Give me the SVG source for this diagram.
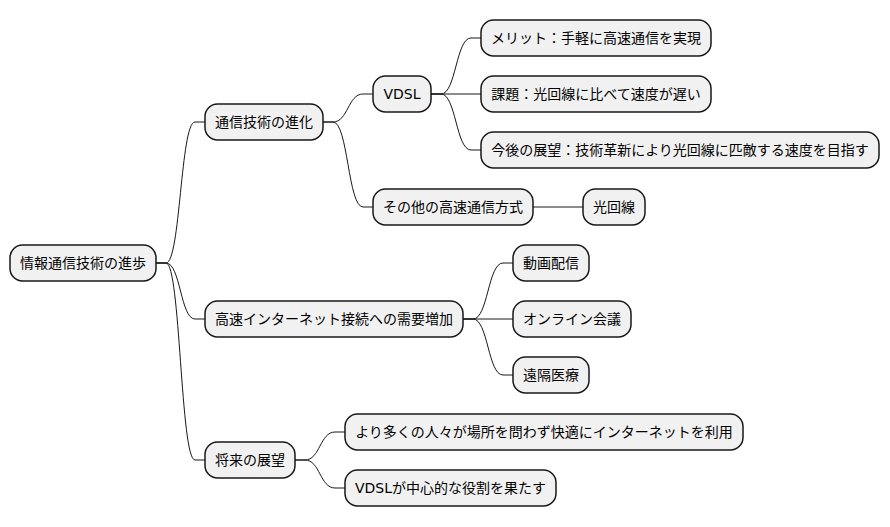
<svg xmlns="http://www.w3.org/2000/svg" width="890" height="527" viewBox="0 0 890 527">
<style>
.n rect{fill:#F1F1F1;stroke:#181818;stroke-width:1.5}
.n text{font-family:"DejaVu Sans","Noto Sans CJK JP",sans-serif;font-size:14px;fill:#000;text-anchor:middle}
#links path{fill:none;stroke:#181818;stroke-width:1}
</style>
<rect width="890" height="527" fill="#FFFFFF"/>
<g id="links">
<path d="M156,263 L166,263 C180.5,263 180.5,122 195,122 L205,122"/>
<path d="M156,263 L166,263 C180.5,263 180.5,319 195,319 L205,319"/>
<path d="M156,263 L166,263 C180.5,263 180.5,460 195,460 L205,460"/>
<path d="M323,122 L333,122 C348,122 348,94 363,94 L373,94"/>
<path d="M323,122 L333,122 C348,122 348,207 363,207 L373,207"/>
<path d="M431,94 L441,94 C456,94 456,38 471,38 L481,38"/>
<path d="M431,94 L481,94"/>
<path d="M431,94 L441,94 C456,94 456,150 471,150 L481,150"/>
<path d="M533,207 L583,207"/>
<path d="M463,319 L473,319 C488,319 488,263 503,263 L513,263"/>
<path d="M463,319 L513,319"/>
<path d="M463,319 L473,319 C488,319 488,375 503,375 L513,375"/>
<path d="M295,460 L305,460 C320,460 320,432 335,432 L345,432"/>
<path d="M295,460 L305,460 C320,460 320,488 335,488 L345,488"/>
</g>
<g id="root" class="n"><rect x="10" y="245" width="146" height="36" rx="12.5"/><text x="83" y="268">情報通信技術の進歩</text></g>
<g id="tech" class="n"><rect x="205" y="104" width="118" height="36" rx="12.5"/><text x="264" y="127">通信技術の進化</text></g>
<g id="vdsl" class="n"><rect x="373" y="76" width="58" height="36" rx="12.5"/><text x="402" y="99">VDSL</text></g>
<g id="merit" class="n"><rect x="481" y="20" width="230" height="36" rx="12.5"/><text x="596" y="43">メリット：手軽に高速通信を実現</text></g>
<g id="issue" class="n"><rect x="481" y="76" width="230" height="36" rx="12.5"/><text x="596" y="99">課題：光回線に比べて速度が遅い</text></g>
<g id="outlook" class="n"><rect x="481" y="132" width="398" height="36" rx="12.5"/><text x="680" y="155">今後の展望：技術革新により光回線に匹敵する速度を目指す</text></g>
<g id="other" class="n"><rect x="373" y="189" width="160" height="36" rx="12.5"/><text x="453" y="212">その他の高速通信方式</text></g>
<g id="fiber" class="n"><rect x="583" y="189" width="62" height="36" rx="12.5"/><text x="614" y="212">光回線</text></g>
<g id="demand" class="n"><rect x="205" y="301" width="258" height="36" rx="12.5"/><text x="334" y="324">高速インターネット接続への需要増加</text></g>
<g id="video" class="n"><rect x="513" y="245" width="76" height="36" rx="12.5"/><text x="551" y="268">動画配信</text></g>
<g id="meeting" class="n"><rect x="513" y="301" width="118" height="36" rx="12.5"/><text x="572" y="324">オンライン会議</text></g>
<g id="medical" class="n"><rect x="513" y="357" width="76" height="36" rx="12.5"/><text x="551" y="380">遠隔医療</text></g>
<g id="future" class="n"><rect x="205" y="442" width="90" height="36" rx="12.5"/><text x="250" y="465">将来の展望</text></g>
<g id="people" class="n"><rect x="345" y="414" width="398" height="36" rx="12.5"/><text x="544" y="437">より多くの人々が場所を問わず快適にインターネットを利用</text></g>
<g id="central" class="n"><rect x="345" y="470" width="211" height="36" rx="12.5"/><text x="450.5" y="493">VDSLが中心的な役割を果たす</text></g>
</svg>
